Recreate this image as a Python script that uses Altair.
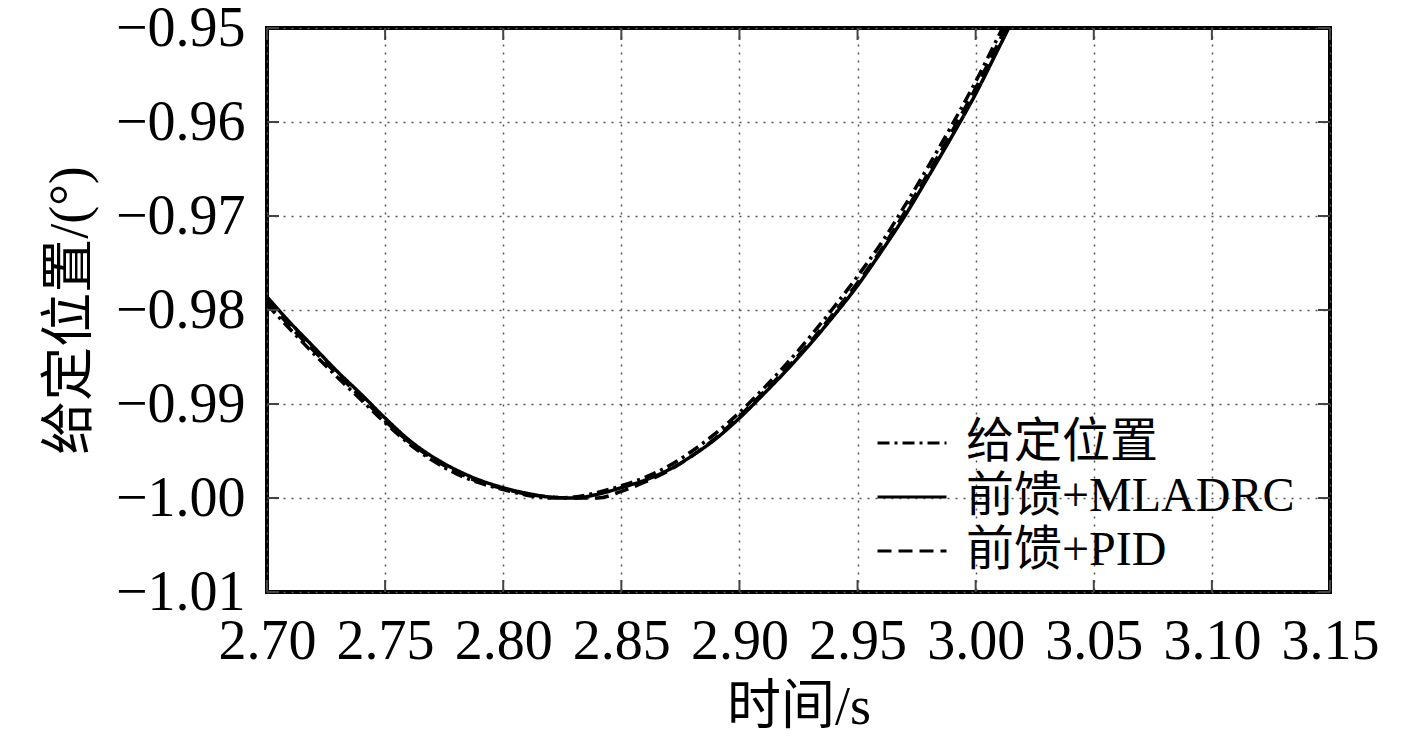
import altair as alt
import pandas as pd

# ---- data ----
t = [2.70, 2.71, 2.72, 2.73, 2.74, 2.75, 2.76, 2.77, 2.78, 2.79, 2.80,
     2.81, 2.82, 2.83, 2.84, 2.85, 2.86, 2.87, 2.88, 2.89, 2.90,
     2.91, 2.92, 2.93, 2.94, 2.95, 2.96, 2.97, 2.98, 2.99, 3.00,
     3.01, 3.02]

ref_pos = [-0.9794, -0.9821, -0.9847, -0.9872, -0.9896, -0.9920, -0.9942, -0.9960, -0.9974, -0.9984, -0.9991,
           -0.9997, -1.0000, -0.9999, -0.9994, -0.9987, -0.9978, -0.9966, -0.9950, -0.9931, -0.9909,
           -0.9884, -0.9857, -0.9828, -0.9797, -0.9764, -0.9729, -0.9689, -0.9647, -0.9603, -0.9557,
           -0.9507, -0.9456]

mladrc = [-0.9786, -0.9814, -0.9840, -0.9866, -0.9890, -0.9915, -0.9938, -0.9956, -0.9970, -0.9981, -0.9989,
          -0.9995, -0.9999, -1.0000, -0.9996, -0.9989, -0.9981, -0.9970, -0.9955, -0.9937, -0.9915,
          -0.9890, -0.9864, -0.9836, -0.9806, -0.9774, -0.9738, -0.9700, -0.9658, -0.9615, -0.9570,
          -0.9520, -0.9470]

pid = [-0.9790, -0.9818, -0.9844, -0.9869, -0.9893, -0.9918, -0.9940, -0.9958, -0.9972, -0.9983, -0.9990,
       -0.9996, -0.9999, -1.0000, -1.0000, -0.9993, -0.9983, -0.9971, -0.9955, -0.9936, -0.9913,
       -0.9888, -0.9862, -0.9834, -0.9803, -0.9771, -0.9736, -0.9696, -0.9654, -0.9610, -0.9564,
       -0.9514, -0.9464]

series_names = ["给定位置", "前馈+MLADRC", "前馈+PID"]
x_ticks = [2.70, 2.75, 2.80, 2.85, 2.90, 2.95, 3.00, 3.05, 3.10, 3.15]
y_ticks = [-1.01, -1.00, -0.99, -0.98, -0.97, -0.96, -0.95]

# ---- build table ----
rows = []
for name, vals in zip(series_names, [ref_pos, mladrc, pid]):
    for tt, v in zip(t, vals):
        rows.append({"t": tt, "v": v, "series": name})
df = pd.DataFrame(rows)

W, H = 1063, 564
FONT = "Liberation Serif, Times New Roman, Noto Sans CJK SC"
dashes = [[12, 5, 3, 5], [1, 0], [14, 7]]

xs = alt.Scale(domain=[2.70, 3.15], nice=False, zero=False)
ys = alt.Scale(domain=[-1.01, -0.95], nice=False, zero=False)

x_axis = alt.Axis(values=x_ticks, format=".2f", title="时间/s", grid=True,
                  labelOverlap=False, labelFlush=False,
                  titleX=W / 2, titleY=115, titleBaseline="middle", titleAlign="center")
y_axis = alt.Axis(values=y_ticks, format=".2f", title="给定位置/(°)", grid=True,
                  labelOverlap=False, labelFlush=False,
                  titleX=-197, titleY=H / 2, titleAngle=270, titleBaseline="middle", titleAlign="center")

lines = alt.Chart(df).mark_line(clip=True, strokeWidth=3.5, color="black", interpolate="monotone").encode(
    x=alt.X("t:Q", scale=xs, axis=x_axis),
    y=alt.Y("v:Q", scale=ys, axis=y_axis),
    strokeDash=alt.StrokeDash(
        "series:N",
        scale=alt.Scale(domain=series_names, range=dashes),
        legend=alt.Legend(title=None, orient="none", legendX=621, legendY=391,
                          labelFont=FONT, labelFontSize=48, labelColor="black", labelLimit=0,
                          symbolType="M-3,0H3", symbolSize=529, symbolStrokeWidth=3,
                          symbolStrokeColor="black", labelOffset=30, rowPadding=6,
                          padding=0),
    ),
    order=alt.Order("t:Q"),
)

xt_df = pd.DataFrame({"t": x_ticks})
yt_df = pd.DataFrame({"v": y_ticks})
tick_style = dict(color="#444", strokeWidth=2)

bottom_ticks = alt.Chart(xt_df).mark_rule(**tick_style).encode(
    x=alt.X("t:Q", scale=xs), y=alt.value(H), y2=alt.value(H - 12))
top_ticks = alt.Chart(xt_df).mark_rule(**tick_style).encode(
    x=alt.X("t:Q", scale=xs), y=alt.value(0), y2=alt.value(12))
left_ticks = alt.Chart(yt_df).mark_rule(**tick_style).encode(
    y=alt.Y("v:Q", scale=ys), x=alt.value(0), x2=alt.value(12))
right_ticks = alt.Chart(yt_df).mark_rule(**tick_style).encode(
    y=alt.Y("v:Q", scale=ys), x=alt.value(W), x2=alt.value(W - 12))

chart = alt.layer(lines, bottom_ticks, top_ticks, left_ticks, right_ticks).properties(
    width=W, height=H,
    padding={"left": 259, "top": 20, "right": 79, "bottom": 147},
    autosize=alt.AutoSizeParams(type="none"),
    background="white",
).configure_view(
    stroke="black", strokeWidth=4,
).configure_axis(
    domain=False, ticks=False,
    gridColor="#555", gridDash=[2, 6], gridWidth=1.5, gridOpacity=1,
    labelFont=FONT, labelFontSize=56, labelColor="black", labelPadding=22,
    titleFont=FONT, titleFontSize=54, titleColor="black", titleFontWeight="normal",
)

chart.save("out.html", embed_options={"renderer": "svg", "actions": False})
